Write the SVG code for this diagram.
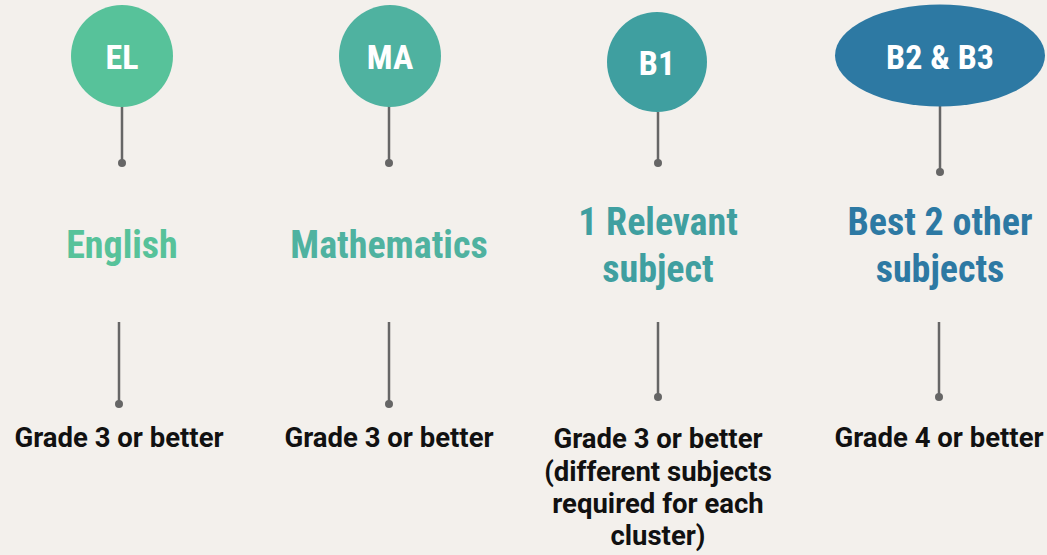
<svg xmlns="http://www.w3.org/2000/svg" width="1047" height="555" viewBox="0 0 1047 555">
<style>
.lbl{font-family:"Liberation Sans Narrow","Roboto Condensed","Liberation Sans",sans-serif;font-weight:bold;text-anchor:middle;fill:#fff;font-size:34px}
.head{font-family:"Liberation Sans Narrow","Roboto Condensed","Liberation Sans",sans-serif;font-weight:bold;text-anchor:middle;font-size:38px}
.sub{font-family:Roboto,"Liberation Sans",sans-serif;font-weight:bold;text-anchor:middle;font-size:27.5px;fill:#111}
.ln{stroke:#666;stroke-width:2.5}
.dot{fill:#666}
</style>
<rect width="1047" height="555" fill="#F3F0EC"/>
<g id="connectors">
<line class="ln" x1="122" y1="106" x2="122" y2="163"/><circle class="dot" cx="122" cy="163" r="4"/>
<line class="ln" x1="389" y1="106" x2="389" y2="163"/><circle class="dot" cx="389" cy="163" r="4"/>
<line class="ln" x1="658" y1="112" x2="658" y2="163"/><circle class="dot" cx="658" cy="163" r="4"/>
<line class="ln" x1="940" y1="106" x2="940" y2="172"/><circle class="dot" cx="940" cy="172" r="4"/>
<line class="ln" x1="119" y1="322" x2="119" y2="404"/><circle class="dot" cx="119" cy="404" r="4"/>
<line class="ln" x1="389" y1="322" x2="389" y2="404"/><circle class="dot" cx="389" cy="404" r="4"/>
<line class="ln" x1="658" y1="322" x2="658" y2="397"/><circle class="dot" cx="658" cy="397" r="4"/>
<line class="ln" x1="939" y1="322" x2="939" y2="397"/><circle class="dot" cx="939" cy="397" r="4"/>
</g>
<g id="el">
<circle cx="122" cy="56" r="51" fill="#57C29A"/>
<text class="lbl" x="122" y="69">EL</text>
<text class="head" x="122" y="258" fill="#57C29A">English</text>
<text class="sub" x="119" y="447">Grade 3 or better</text>
</g>
<g id="ma">
<circle cx="390" cy="56" r="51" fill="#4FB2A0"/>
<text class="lbl" x="390" y="69">MA</text>
<text class="head" x="389" y="258" fill="#4FB2A0">Mathematics</text>
<text class="sub" x="389" y="447">Grade 3 or better</text>
</g>
<g id="b1">
<circle cx="657" cy="62" r="50" fill="#3F9FA0"/>
<text class="lbl" x="657" y="75">B1</text>
<text class="head" x="658" y="235" fill="#3F9FA0">1 Relevant</text>
<text class="head" x="658" y="282" fill="#3F9FA0">subject</text>
<text class="sub" x="658" y="448">Grade 3 or better</text>
<text class="sub" x="658" y="481">(different subjects</text>
<text class="sub" x="658" y="513">required for each</text>
<text class="sub" x="658" y="545">cluster)</text>
</g>
<g id="b23">
<ellipse cx="940" cy="55.5" rx="105" ry="51" fill="#2D79A3"/>
<text class="lbl" x="940" y="69">B2 &amp; B3</text>
<text class="head" x="940" y="235" fill="#2D79A3">Best 2 other</text>
<text class="head" x="940" y="282" fill="#2D79A3">subjects</text>
<text class="sub" x="939" y="447">Grade 4 or better</text>
</g>
</svg>
